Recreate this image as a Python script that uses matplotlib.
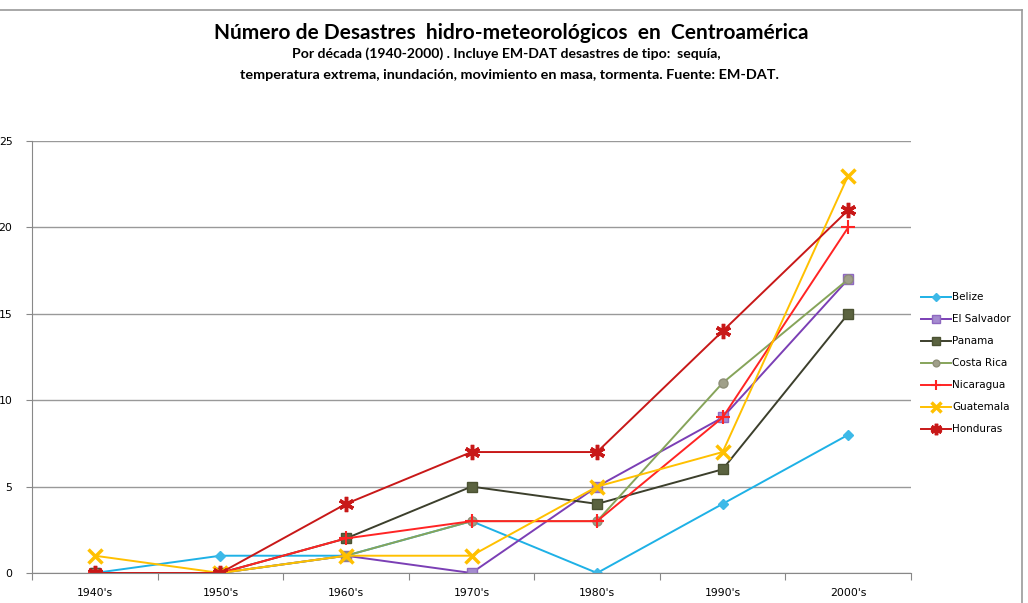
import matplotlib.pyplot as plt
from matplotlib.lines import Line2D
import numpy as np

decades = ["1940's", "1950's", "1960's", "1970's", "1980's", "1990's", "2000's"]
belize = [0, 1, 1, 3, 0, 4, 8]
el_salvador = [0, 0, 1, 0, 5, 9, 17]
panama = [0, 0, 2, 5, 4, 6, 15]
costa_rica = [0, 0, 1, 3, 3, 11, 17]
nicaragua = [0, 0, 2, 3, 3, 9, 20]
guatemala = [1, 0, 1, 1, 5, 7, 23]
honduras = [0, 0, 4, 7, 7, 14, 21]

fig = plt.figure(figsize=(10.28, 6.03), dpi=100)
ax = fig.add_axes([32/1028, 1 - 573/603, 879/1028, 432/603])

x = np.arange(len(decades))
ax.plot(x, belize, color='#1EB1E6', lw=1.4, marker='D', ms=5.5,
        mfc='#3DB9E8', mec='#3DB9E8', label='Belize')
ax.plot(x, el_salvador, color='#7B3FB5', lw=1.4, marker='s', ms=7,
        mfc='#A58CD0', mec='#8E68C0', label='El Salvador')
ax.plot(x, panama, color='#3C3F2C', lw=1.4, marker='s', ms=7,
        mfc='#5B6340', mec='#4B5232', label='Panama')
ax.plot(x, costa_rica, color='#86A45A', lw=1.4, marker='o', ms=6.5,
        mfc='#A0A08A', mec='#8E8E78', label='Costa Rica')
ax.plot(x, nicaragua, color='#FF2424', lw=1.4, marker='+', ms=10,
        mew=1.5, label='Nicaragua')
ax.plot(x, guatemala, color='#FFC000', lw=1.4, marker='x', ms=10,
        mew=2.5, label='Guatemala')
ax.plot(x, honduras, color='#C81818', lw=1.4, marker=(6, 2, 0), ms=11,
        mew=2.5, label='Honduras')

ax.set_xlim(-0.5, 6.5)
ax.set_ylim(0, 25)
ax.set_yticks([0, 5, 10, 15, 20, 25])
ax.set_xticks(np.arange(-0.5, 7, 1))
ax.set_xticklabels([])
ax.set_xticks(x, minor=True)
ax.set_xticklabels(decades, minor=True)
ax.tick_params(axis='x', which='major', length=5, color='#888888')
ax.tick_params(axis='x', which='minor', length=0, pad=11, labelsize=7.8)
ax.tick_params(axis='y', length=4, color='#888888', pad=10, labelsize=7.8)
ax.grid(axis='y', color='#999999', lw=1)
ax.set_axisbelow(True)
for s in ['top', 'right']:
    ax.spines[s].set_visible(False)
for s in ['left', 'bottom']:
    ax.spines[s].set_color('#888888')

fig.legend(loc='upper left', bbox_to_anchor=(912/1028, 1 - 283/603),
           frameon=False, fontsize=7.5, labelspacing=1.15, handlelength=2.8,
           handletextpad=0.15, markerscale=0.75)

fig.text(0.497, 1 - 33/603, 'Número de Desastres  hidro-meteorológicos  en  Centroamérica',
         ha='center', va='center', fontsize=15, fontweight='bold', family='Lato')
fig.text(0.493, 1 - 54/603, 'Por década (1940-2000) . Incluye EM-DAT desastres de tipo:  sequía,',
         ha='center', va='center', fontsize=10.1, fontweight='bold', family='Lato')
fig.text(0.496, 1 - 75/603, 'temperatura extrema, inundación, movimiento en masa, tormenta. Fuente: EM-DAT.',
         ha='center', va='center', fontsize=10.4, fontweight='bold', family='Lato')

fig.add_artist(Line2D([0, 1021.5/1028], [1 - 9.5/603] * 2, color='#999999', lw=1.2))
fig.add_artist(Line2D([1021.5/1028] * 2, [0, 1 - 9.5/603], color='#999999', lw=1.2))

plt.savefig('out.png')
